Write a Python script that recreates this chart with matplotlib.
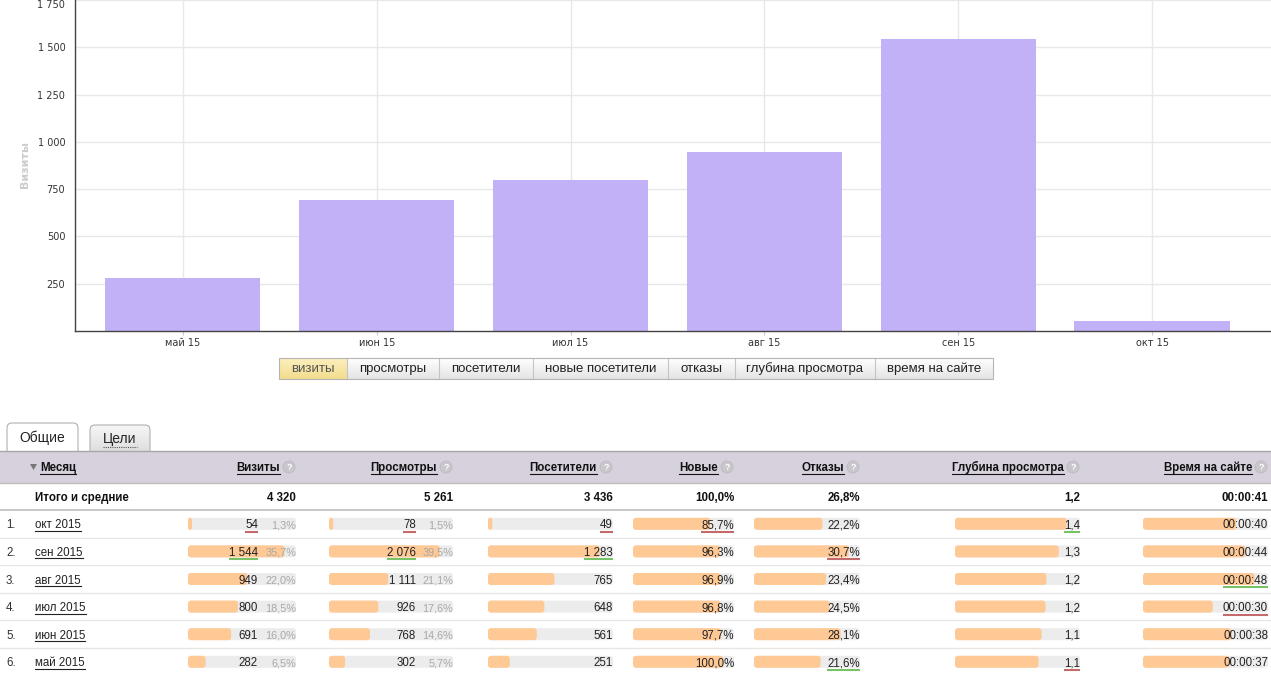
import matplotlib
matplotlib.use('Agg')
import matplotlib.pyplot as plt
import numpy as np
from matplotlib.patches import Rectangle, FancyBboxPatch, Circle, Polygon
from matplotlib.ticker import FuncFormatter
from matplotlib import font_manager as fm

# ---------------- data ----------------
chart_months = ['май 15', 'июн 15', 'июл 15', 'авг 15', 'сен 15', 'окт 15']
chart_visits = [282, 691, 800, 949, 1544, 54]
y_ticks = [250, 500, 750, 1000, 1250, 1500, 1750]
y_label = 'Визиты'

metric_buttons = ['визиты', 'просмотры', 'посетители', 'новые посетители',
                  'отказы', 'глубина просмотра', 'время на сайте']
tabs = ['Общие', 'Цели']

columns = ['Месяц', 'Визиты', 'Просмотры', 'Посетители', 'Новые', 'Отказы',
           'Глубина просмотра', 'Время на сайте']
row_months = ['окт 2015', 'сен 2015', 'авг 2015', 'июл 2015', 'июн 2015', 'май 2015']
visits = [54, 1544, 949, 800, 691, 282]
visits_share = [1.3, 35.7, 22.0, 18.5, 16.0, 6.5]
views = [78, 2076, 1111, 926, 768, 302]
views_share = [1.5, 39.5, 21.1, 17.6, 14.6, 5.7]
visitors = [49, 1283, 765, 648, 561, 251]
new_pct = [85.7, 96.3, 96.9, 96.8, 97.7, 100.0]
bounce_pct = [22.2, 30.7, 23.4, 24.5, 28.1, 21.6]
depth = [1.43, 1.33, 1.17, 1.16, 1.11, 1.07]
time_sec = [40, 44, 48, 30, 38, 37]
total_label = 'Итого и средние'
total_visits, total_views, total_visitors = 4320, 5261, 3436
avg_new, avg_bounce, avg_depth, avg_time = 100.0, 26.8, 1.2, 41

# ---------------- helpers ----------------
def f_int(v):
    return f'{int(v):,}'.replace(',', ' ')

def f_pct(v):
    return f'{v:.1f}%'.replace('.', ',')

def f_dec(v):
    return f'{v:.1f}'.replace('.', ',')

def f_time(s):
    s = int(s)
    return f'{s // 3600:02d}:{(s % 3600) // 60:02d}:{s % 60:02d}'

SANS = 'Liberation Sans'
FS = 8.3

W, H, DPI = 1271, 673, 100
fig = plt.figure(figsize=(W / DPI, H / DPI), dpi=DPI)
fig.patch.set_facecolor('white')

ui = fig.add_axes([0, 0, 1, 1])
ui.axis('off')
ui.set_xlim(0, W)
ui.set_ylim(H, 0)
ui.set_autoscale_on(False)

# ---------------- bar chart ----------------
AX_L, AX_B = 75, 331
ax = fig.add_axes([AX_L / W, 1 - AX_B / H, (W - AX_L) / W, AX_B / H])
xs = np.arange(len(chart_months))
ax.bar(xs, chart_visits, width=0.8, color='#c3b1f8', zorder=2)
ax.set_xlim(-0.557, len(xs) - 1 + 0.614)
ax.set_ylim(0, max(y_ticks))
ax.set_yticks(y_ticks)
ax.yaxis.set_major_formatter(FuncFormatter(lambda v, p: f_int(v)))
ax.set_xticks(xs)
ax.set_xticklabels(chart_months)
ax.grid(True, color='#e8e8e8', lw=1)
ax.set_axisbelow(True)
for s in ['top', 'right']:
    ax.spines[s].set_visible(False)
for s in ['left', 'bottom']:
    ax.spines[s].set_color('#444444')
    ax.spines[s].set_linewidth(1.0)
ax.tick_params(axis='y', length=0, pad=7, labelsize=7, labelcolor='#333333')
ax.tick_params(axis='x', length=3, color='#cccccc', pad=2, labelsize=7, labelcolor='#333333')
# keep the top tick label inside the picture
ax.get_yticklabels()[-1].set_va('top')
fig.text(25 / W, 1 - 165 / H, y_label, rotation=90, color='#cccccc', weight='bold',
         fontsize=8, ha='center', va='center')

renderer = fig.canvas.get_renderer()

def text_span(t):
    bb = t.get_window_extent(renderer=renderer)
    inv = ui.transData.inverted()
    (a, _), (b, _) = inv.transform([[bb.x0, bb.y0], [bb.x1, bb.y0]])
    return a, b

def grad(ct, cb, n=32):
    ct = np.array(matplotlib.colors.to_rgb(ct))
    cb = np.array(matplotlib.colors.to_rgb(cb))
    t = np.linspace(0, 1, n)[:, None, None]
    return ct + (cb - ct) * t

# ---------------- metric buttons ----------------
BTN_EDGES = [279, 347, 439, 533, 668, 735, 875, 993]
BTN_T, BTN_B = 358, 379
SELECTED = 0
for i, lab in enumerate(metric_buttons):
    x0, x1 = BTN_EDGES[i], BTN_EDGES[i + 1]
    g = grad('#fcf0bd', '#f3dc8e') if i == SELECTED else grad('#ffffff', '#e4e4e4')
    ui.imshow(g, extent=(x0, x1, BTN_B, BTN_T), aspect='auto', origin='upper',
              interpolation='bilinear', zorder=1)
    if i > 0:
        ui.plot([x0, x0], [BTN_T, BTN_B], color='#c4c4c4', lw=0.8, zorder=2)
    ui.text((x0 + x1) / 2, (BTN_T + BTN_B) / 2 + 0.5, lab, ha='center', va='center',
            fontsize=9.5, family=SANS, color='#555555' if i == SELECTED else '#222222', zorder=3)
ui.add_patch(Rectangle((BTN_EDGES[0], BTN_T), BTN_EDGES[-1] - BTN_EDGES[0], BTN_B - BTN_T,
                       fill=False, ec='#b5b5b5', lw=0.8, zorder=4))

# ---------------- tabs ----------------
TAB_LINE = 451
tab_boxes = [(7, 78, 423), (90, 150, 425)]
for i, (lab, (x0, x1, yt)) in enumerate(zip(tabs, tab_boxes)):
    patch = FancyBboxPatch((x0, yt), x1 - x0, TAB_LINE + 6 - yt,
                           boxstyle='round,pad=0,rounding_size=5',
                           fc='white' if i == 0 else 'none', ec='#b0b0b0', lw=0.8, zorder=2)
    ui.add_patch(patch)
    if i > 0:
        im = ui.imshow(grad('#f6f6f6', '#d9d9d9'), extent=(x0, x1, TAB_LINE + 6, yt),
                       aspect='auto', origin='upper', interpolation='bilinear', zorder=1)
        im.set_clip_path(patch)
    t = ui.text((x0 + x1) / 2, (yt + TAB_LINE) / 2 + 1, lab, ha='center', va='center',
                fontsize=10, family=SANS, color='#222222', zorder=3)
    if i > 0:
        a, b = text_span(t)
        yy = (yt + TAB_LINE) / 2 + 9
        ui.plot([a, b], [yy, yy], color='#555555', lw=0.8, ls=(0, (1, 1)), zorder=3)

# ---------------- table header ----------------
HDR_T, HDR_B = 451, 483
TOT_B = 510
ROW_H = 27.6
ui.add_patch(Rectangle((0, HDR_T), W, HDR_B - HDR_T, fc='#d6d1dc', ec='none', zorder=5))
ui.plot([0, W], [HDR_T, HDR_T], color='#a8a8a8', lw=1.0, zorder=6)
ui.plot([0, W], [HDR_B, HDR_B], color='#bdbdbd', lw=1.0, zorder=6)
ui.plot([0, W], [TOT_B, TOT_B], color='#bdbdbd', lw=1.2, zorder=6)

COL_RIGHT = [296, 453, 613, 734, 860, 1080, 1268]
TRACK_L = [188, 329, 488, 633, 754, 955, 1143]
VALUE_R = [258, 416, 613, 734, 860, 1080, 1268]
hy = (HDR_T + HDR_B) / 2
ui.add_patch(Polygon([[30, hy - 3], [37, hy - 3], [33.5, hy + 3]], closed=True, fc='#777777',
                     ec='none', zorder=7))
t = ui.text(40, hy + 4, columns[0], ha='left', va='baseline', fontsize=FS,
            family=SANS, weight='bold', color='#111111', zorder=7)
a, b = text_span(t)
ui.plot([a, b], [hy + 6.5, hy + 6.5], color='#111111', lw=0.8, zorder=7)
for j, name in enumerate(columns[1:]):
    r = COL_RIGHT[j]
    ui.add_patch(Circle((r - 7, hy), 6, fc='#c9c6cc', ec='#bdbabf', lw=0.6, zorder=7))
    ui.text(r - 7, hy + 0.5, '?', ha='center', va='center', fontsize=6.5, color='white',
            weight='bold', family=SANS, zorder=8)
    t = ui.text(r - 16, hy + 4, name, ha='right', va='baseline', fontsize=FS,
                family=SANS, weight='bold', color='#111111', zorder=7)
    a, b = text_span(t)
    ui.plot([a, b], [hy + 6.5, hy + 6.5], color='#111111', lw=0.8, zorder=7)

# totals row
ty = (HDR_B + TOT_B) / 2 + 4.5
ui.text(35, ty, total_label, ha='left', va='baseline', fontsize=FS, family=SANS,
        weight='bold', color='#111111')
totals = [f_int(total_visits), f_int(total_views), f_int(total_visitors), f_pct(avg_new),
          f_pct(avg_bounce), f_dec(avg_depth), f_time(avg_time)]
for j, s in enumerate(totals):
    ui.text(COL_RIGHT[j], ty, s, ha='right', va='baseline', fontsize=FS,
            family=SANS, weight='bold', color='#111111')

# ---------------- table rows ----------------
metrics = [visits, views, visitors, new_pct, bounce_pct, depth, time_sec]
formatters = [f_int, f_int, f_int, f_pct, f_pct, f_dec, f_time]
shares = [visits_share, views_share, None, None, None, None, None]
rules = [('max', 'min'), ('max', 'min'), ('max', 'min'), (None, 'min'),
         ('min', 'max'), ('max', 'min'), ('max', 'min')]
GREEN, RED = '#76c265', '#c46a6a'
BAR_C, TRACK_C = '#ffc996', '#ececec'
BAR_H = 12
n = len(row_months)
for i in range(1, n):
    yy = TOT_B + ROW_H * i
    ui.plot([0, W], [yy, yy], color='#e6e6e6', lw=1.0, zorder=1)

for i in range(n):
    cy = TOT_B + ROW_H * (i + 0.5)
    base = cy + 4.5
    ui.text(6, base, f'{i + 1}.', ha='left', va='baseline', fontsize=FS,
            family=SANS, color='#333333')
    t = ui.text(35, base, row_months[i], ha='left', va='baseline', fontsize=FS,
                family=SANS, color='#222222')
    a, b = text_span(t)
    ui.plot([a, b], [base + 2.5, base + 2.5], color='#222222', lw=0.8)

for j, vals in enumerate(metrics):
    tl, tr = TRACK_L[j], COL_RIGHT[j]
    tw = tr - tl
    scale = max(vals) * 1.12
    g_rule, r_rule = rules[j]
    pick = {'max': int(np.argmax(vals)), 'min': int(np.argmin(vals)), None: None}
    gi, ri = pick[g_rule], pick[r_rule]
    for i, v in enumerate(vals):
        cy = TOT_B + ROW_H * (i + 0.5)
        base = cy + 4.5
        ui.add_patch(FancyBboxPatch((tl, cy - BAR_H / 2), tw, BAR_H,
                                    boxstyle='round,pad=0,rounding_size=3',
                                    fc=TRACK_C, ec='none', zorder=2))
        bw = max(4, tw * v / scale)
        ui.add_patch(FancyBboxPatch((tl, cy - BAR_H / 2), bw, BAR_H,
                                    boxstyle=f'round,pad=0,rounding_size={min(3, bw / 2)}',
                                    fc=BAR_C, ec='none', zorder=3))
        t = ui.text(VALUE_R[j], base, formatters[j](v), ha='right', va='baseline',
                    fontsize=FS, family=SANS, color='#222222', zorder=5)
        if shares[j] is not None:
            ui.text(COL_RIGHT[j], base, f_pct(shares[j][i]), ha='right', va='baseline',
                    fontsize=FS - 0.5, family=SANS, color='#a8a8a8', zorder=5)
        if i in (gi, ri):
            a, b = text_span(t)
            ui.plot([a, b], [base + 3.5, base + 3.5], color=GREEN if i == gi else RED,
                    lw=1.5, solid_capstyle='butt', zorder=5)

ui.set_xlim(0, W)
ui.set_ylim(H, 0)
fig.savefig('out.png', dpi=DPI, facecolor='white')
